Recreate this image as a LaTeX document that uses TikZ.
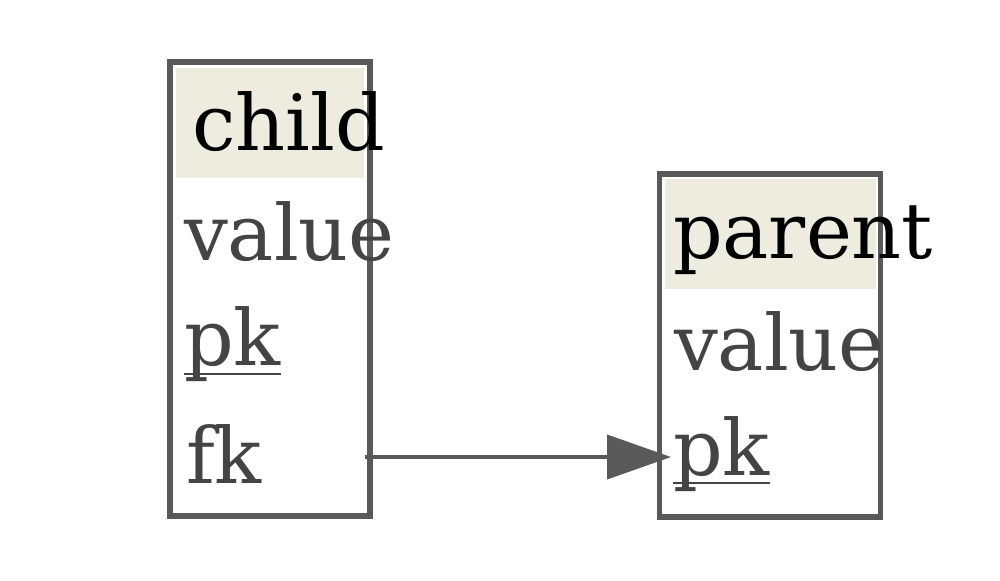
\documentclass[tikz,border=0pt]{standalone}
\usepackage{fontspec}
\setmainfont{DejaVu Serif}
\usetikzlibrary{arrows.meta}
\definecolor{headfill}{HTML}{EEEBDF}
\definecolor{edgegray}{HTML}{595959}
\definecolor{fieldgray}{HTML}{444444}
\begin{document}
\begin{tikzpicture}[x=0.5pt, y=-0.5pt,
  every node/.style={inner sep=0pt, outer sep=0pt, anchor=base west, font=\fontsize{38.8pt}{40pt}\selectfont, text height=30pt, text depth=4pt},
  tablebox/.style={draw=edgegray, line width=2.6pt, anchor=north west},
  headcell/.style={fill=headfill, anchor=north west, minimum height=55pt},
  title/.style={text=black},
  field/.style={text=fieldgray},
  keyline/.style={draw=fieldgray, line width=1.1pt},
  link/.style={draw=edgegray, line width=2pt, shorten <=-2.5pt, shorten >=1pt, -{Triangle[length=32pt,width=22pt]}}]
\useasboundingbox (0,0) rectangle (1000,580);

\node[headcell, minimum width=94pt] (child-head) at (176,68) {};
\node[tablebox, minimum width=100pt, minimum height=227pt] (child) at (170,62) {};
\node[title] (child-title) at (192,150) {child};
\node[field] (child-value) at (184,260) {value};
\node[field] (child-pk) at (184,365) {pk};
\node[field] (child-fk) at (186,483) {fk};

\node[headcell, minimum width=105.5pt] (parent-head) at (665,179) {};
\node[tablebox, minimum width=110.5pt, minimum height=171.5pt] (parent) at (659.5,174) {};
\node[title] (parent-title) at (673,258) {parent};
\node[field] (parent-value) at (674,370) {value};
\node[field] (parent-pk) at (673,475) {pk};

\draw[keyline] ([yshift=-4.5pt]child-pk.base west) -- ([yshift=-4.5pt]child-pk.base east);
\draw[keyline] ([yshift=-4pt]parent-pk.base west) -- ([yshift=-4pt]parent-pk.base east);

\draw[link] (child-fk.center -| child.east) -- (child-fk.center -| parent-pk.west);
\end{tikzpicture}
\end{document}
